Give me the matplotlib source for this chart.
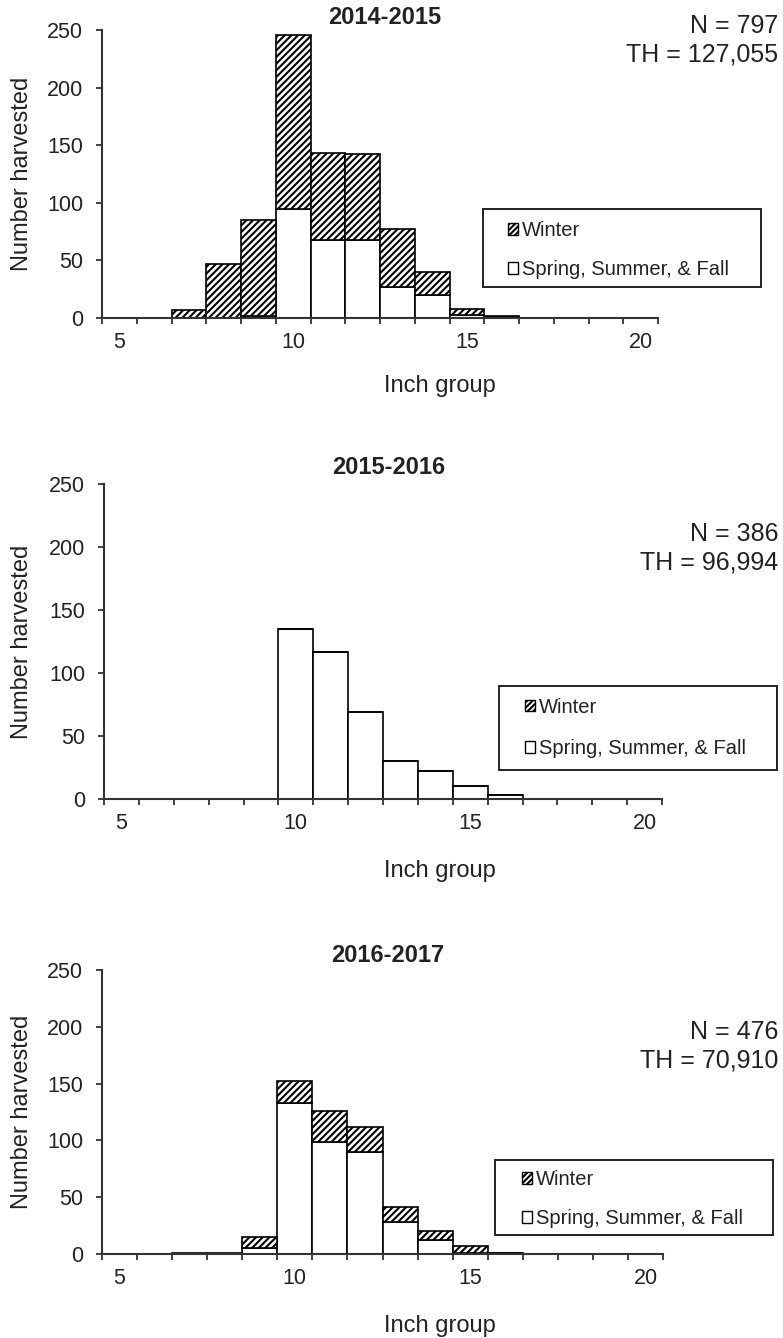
import numpy as np
import matplotlib
matplotlib.use('Agg')
import matplotlib.pyplot as plt
from matplotlib.patches import Rectangle, Patch

plt.rcParams['font.family'] = ['Liberation Sans', 'DejaVu Sans']
plt.rcParams['hatch.linewidth'] = 1.5

# data
inch_groups = [5, 6, 7, 8, 9, 10, 11, 12, 13, 14, 15, 16, 17, 18, 19, 20]
seasons = ['2014-2015', '2015-2016', '2016-2017']
n_fish = ['797', '386', '476']
total_harvest = ['127,055', '96,994', '70,910']

#              5  6  7   8   9   10   11  12  13  14  15 16 17 18 19 20
spring_1415 = [0, 0, 0,  0,  2,  95,  68, 68, 27, 20, 3, 1, 0, 0, 0, 0]
winter_1415 = [0, 0, 7, 47, 83, 151,  75, 74, 50, 20, 5, 1, 0, 0, 0, 0]
spring_1516 = [0, 0, 0,  0,  0, 135, 117, 69, 30, 22, 10, 3, 0, 0, 0, 0]
winter_1516 = [0, 0, 0,  0,  0,   0,   0,  0,  0,  0, 0, 0, 0, 0, 0, 0]
spring_1617 = [0, 0, 0,  0,  5, 133,  99, 90, 28, 12, 1, 1, 0, 0, 0, 0]
winter_1617 = [0, 0, 1,  1, 10,  19,  27, 22, 13,  8, 6, 0, 0, 0, 0, 0]

spring = [spring_1415, spring_1516, spring_1617]
winter = [winter_1415, winter_1516, winter_1617]

W, H = 783, 1338
# pixel layout of each panel: axes (left, right, top, bottom), legend box, text spots
panels = [
    dict(ax=(102, 658, 30, 318), leg=(483, 761, 209, 287), hx=509, ly=250, sp=1.0,
         title=(385, 18), nth=40, xl=387),
    dict(ax=(104, 662, 484, 799), leg=(499, 777, 686, 770), hx=526, ly=728, sp=1.12,
         title=(389, 468), nth=548, xl=872),
    dict(ax=(102, 663, 970, 1254), leg=(495, 773, 1160, 1235), hx=523, ly=1199, sp=1.0,
         title=(388, 956), nth=1046, xl=1327),
]

fig = plt.figure(figsize=(W / 100, H / 100), dpi=100)
txt = '#222222'

for i, p in enumerate(panels):
    l, r, t, b = p['ax']
    ax = fig.add_axes([l / W, 1 - b / H, (r - l) / W, (b - t) / H])
    ax.bar(inch_groups, spring[i], width=1, color='white', edgecolor='black', lw=1.2)
    ax.bar(inch_groups, winter[i], width=1, bottom=spring[i], color='white',
           edgecolor='black', hatch='/////', lw=1.2)

    ax.set_xlim(4.5, 20.5)
    ax.set_ylim(0, 250)
    ax.set_yticks(range(0, 251, 50))
    ax.set_xticks([5, 10, 15, 20])
    ax.set_xticks(np.arange(4.5, 21, 1), minor=True)
    for s in ['top', 'right']:
        ax.spines[s].set_visible(False)
    for s in ['left', 'bottom']:
        ax.spines[s].set_color('#333333')
        ax.spines[s].set_linewidth(1.5)
    ax.tick_params(axis='x', which='major', length=0, pad=10, labelsize=15.5, labelcolor=txt)
    ax.tick_params(axis='x', which='minor', length=4.5, width=1.3, color='#333333')
    ax.tick_params(axis='y', length=4.5, width=1.3, color='#333333', pad=9,
                   labelsize=15.5, labelcolor=txt)

    ax.set_ylabel('Number harvested', fontsize=17, color=txt)
    ax.yaxis.set_label_coords((33 - l) / (r - l), 0.5)
    ax.set_xlabel('Inch group', fontsize=17, color=txt)
    ax.xaxis.set_label_coords((440 - l) / (r - l), -(p['xl'] - 12 - b) / (b - t))

    tx, ty = p['title']
    fig.text(tx / W, 1 - ty / H, seasons[i], ha='center', va='center',
             fontsize=17, fontweight='bold', color=txt)
    fig.text(778 / W, 1 - p['nth'] / H, 'N = ' + n_fish[i] + '\nTH = ' + total_harvest[i],
             ha='right', va='center', multialignment='right', fontsize=18,
             linespacing=1.25, color=txt)

    # legend, with its box drawn separately to get the wide padding
    ll, lr, lt, lb = p['leg']
    handles = [Patch(facecolor='white', edgecolor='black', hatch='//////', label='Winter'),
               Patch(facecolor='white', edgecolor='black', label='Spring, Summer, & Fall')]
    ax.legend(handles=handles, loc='center left',
              bbox_to_anchor=((p['hx'] - 1) / W, 1 - p['ly'] / H),
              bbox_transform=fig.transFigure, frameon=False, fontsize=14.5,
              handlelength=0.5, handleheight=0.5, handletextpad=0.18,
              labelspacing=p['sp'], borderpad=0, borderaxespad=0, labelcolor=txt)
    fig.add_artist(Rectangle((ll / W, 1 - lb / H), (lr - ll) / W, (lb - lt) / H,
                             transform=fig.transFigure, fill=False,
                             edgecolor='#222222', lw=1.4))

fig.savefig('out.png', dpi=100)
